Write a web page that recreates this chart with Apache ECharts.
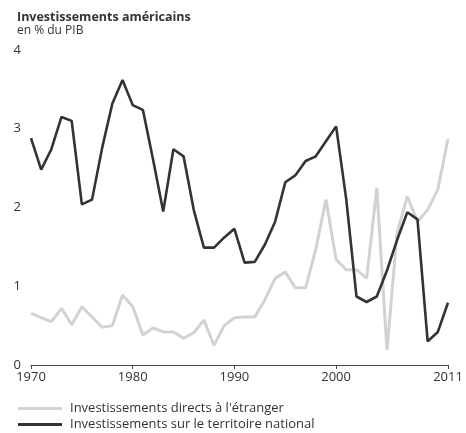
<!DOCTYPE html>
<html>
<head>
<meta charset="utf-8">
<script src="https://cdn.jsdelivr.net/npm/echarts@6/dist/echarts.min.js"></script>
<style>html,body{margin:0;padding:0;background:#fff}#c{width:466px;height:433px}</style>
</head>
<body>
<div id="c"></div>
<script>
const years = [];
for (let y = 1970; y <= 2011; y++) years.push(String(y));
const tickYears = ['1970', '1980', '1990', '2000', '2011'];
const directsEtranger = [0.66,0.60,0.55,0.72,0.51,0.74,0.61,0.48,0.50,0.89,0.74,0.38,0.47,0.42,0.42,0.34,0.41,0.57,0.25,0.50,
  0.60,0.61,0.61,0.83,1.10,1.18,0.98,0.98,1.47,2.10,1.34,1.21,1.21,1.10,2.25,0.19,1.68,2.14,1.82,1.97,2.23,2.87];
const territoireNational = [2.88,2.48,2.74,3.15,3.10,2.04,2.10,2.76,3.32,3.62,3.30,3.24,2.61,1.95,2.74,2.65,1.97,1.49,1.49,1.62,
  1.73,1.30,1.31,1.53,1.82,2.32,2.41,2.59,2.65,2.84,3.03,2.10,0.87,0.80,0.87,1.20,1.59,1.94,1.85,0.30,0.42,0.79];
const yTicks = [0, 1, 2, 3, 4];
const nameA = "Investissements directs à l'étranger";
const nameB = 'Investissements sur le territoire national';
const font = 'Open Sans';
const chart = echarts.init(document.getElementById('c'));
chart.setOption({
  animation: false,
  textStyle: { fontFamily: font, color: '#333' },
  title: {
    text: 'Investissements américains',
    subtext: 'en % du PIB',
    left: 12, top: 6, itemGap: 1,
    textStyle: { fontFamily: font, fontSize: 12.5, fontWeight: 'bold', color: '#333' },
    subtextStyle: { fontFamily: font, fontSize: 12, color: '#333' }
  },
  grid: { left: 31, right: 18, top: 50, bottom: 68, containLabel: false },
  legend: {
    orient: 'vertical', left: 18, top: 401, itemGap: 1, padding: 0,
    itemWidth: 44, itemHeight: 3,
    textStyle: { fontFamily: font, fontSize: 13, lineHeight: 15, color: '#333', padding: [0, 0, 0, 3] },
    data: [
      { name: nameA, icon: 'rect', itemStyle: { color: '#d2d2d2' } },
      { name: nameB, icon: 'rect', itemStyle: { color: '#333' } }
    ]
  },
  xAxis: {
    type: 'category', data: years, boundaryGap: false,
    axisLine: { lineStyle: { color: '#444', width: 1.2 } },
    axisTick: { length: 4, lineStyle: { color: '#444' }, interval: (i, v) => tickYears.includes(v) },
    axisLabel: { interval: (i, v) => tickYears.includes(v), fontSize: 13, color: '#333', margin: 6, fontFamily: font }
  },
  yAxis: {
    type: 'value', min: yTicks[0], max: yTicks[yTicks.length - 1], interval: 1,
    axisLine: { show: false }, axisTick: { show: false }, splitLine: { show: false },
    axisLabel: { fontSize: 13, color: '#333', margin: 10, fontFamily: font }
  },
  series: [
    { name: nameA, type: 'line', data: directsEtranger, symbol: 'none',
      lineStyle: { color: '#d2d2d2', width: 3 }, itemStyle: { color: '#d2d2d2' }, z: 2 },
    { name: nameB, type: 'line', data: territoireNational, symbol: 'none',
      lineStyle: { color: '#333', width: 2.6 }, itemStyle: { color: '#333' }, z: 3 }
  ]
});
</script>
</body>
</html>
